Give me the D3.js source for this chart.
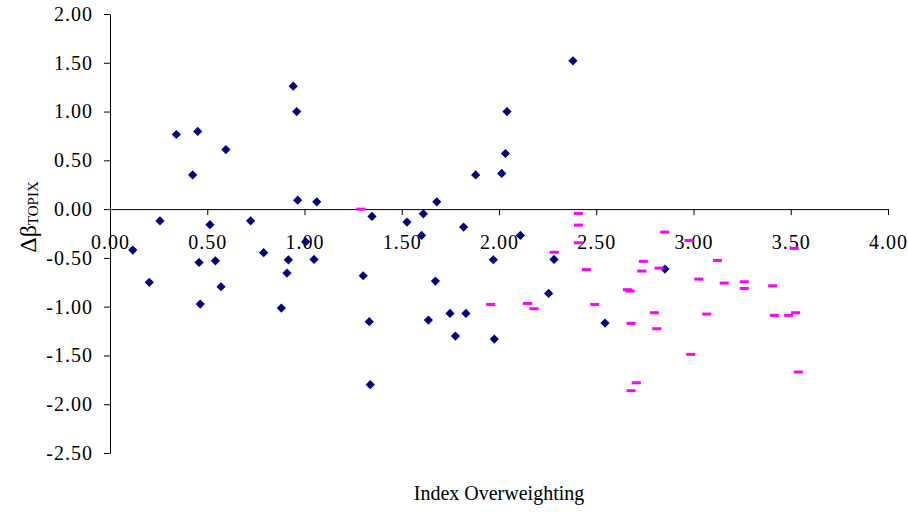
<!DOCTYPE html>
<html>
<head>
<meta charset="utf-8">
<script src="https://cdn.jsdelivr.net/npm/d3@7"></script>
<style>
  body { margin: 0; background: #fff; }
  svg { display: block; }
  svg text { font-family: "Liberation Serif", "Times New Roman", serif; }
</style>
</head>
<body>
<div id="chart"></div>
<script>
// Scatter of beta change vs index overweighting (two series: diamonds + dashes)

const xTicks = [0, 0.5, 1, 1.5, 2, 2.5, 3, 3.5, 4];
const yTicks = [-2.5, -2, -1.5, -1, -0.5, 0, 0.5, 1, 1.5, 2];

// series 1 — navy diamonds
const diamondX = [0.117, 0.202, 0.257, 0.341, 0.425, 0.451, 0.458, 0.464, 0.514, 0.542,
  0.571, 0.596, 0.723, 0.790, 0.881, 0.910, 0.917, 0.942, 0.960, 0.965,
  1.006, 1.049, 1.063, 1.302, 1.333, 1.338, 1.347, 1.527, 1.602, 1.611,
  1.637, 1.673, 1.680, 1.748, 1.776, 1.818, 1.830, 1.880, 1.971, 1.976,
  2.014, 2.033, 2.041, 2.110, 2.255, 2.283, 2.380, 2.545, 2.853];
const diamondY = [-0.42, -0.75, -0.12, 0.765, 0.35, 0.796, -0.546, -0.973, -0.16, -0.53,
  -0.796, 0.61, -0.12, -0.447, -1.014, -0.656, -0.52, 1.26, 1.00, 0.092,
  -0.335, -0.516, 0.075, -0.683, -1.154, -1.80, -0.075, -0.133, -0.27, -0.048,
  -1.137, -0.738, 0.075, -1.069, -1.301, -0.184, -1.069, 0.35, -0.519, -1.332,
  0.366, 0.57, 1.00, -0.27, -0.864, -0.516, 1.52, -1.168, -0.615];

// series 2 — magenta dashes
const dashX = [1.290, 1.957, 2.146, 2.180, 2.284, 2.408, 2.408, 2.408, 2.449, 2.492,
  2.660, 2.674, 2.679, 2.679, 2.706, 2.734, 2.742, 2.799, 2.811, 2.823,
  2.852, 2.977, 2.986, 3.027, 3.068, 3.123, 3.158, 3.261, 3.261, 3.407,
  3.416, 3.489, 3.525, 3.518, 3.539];
const dashY = [0.0, -0.977, -0.967, -1.021, -0.442, -0.044, -0.164, -0.345, -0.62, -0.977,
  -0.826, -0.84, -1.171, -1.861, -1.78, -0.635, -0.536, -1.062, -1.226, -0.605,
  -0.236, -0.321, -1.489, -0.717, -1.076, -0.526, -0.758, -0.745, -0.813, -0.786,
  -1.089, -1.089, -1.062, -0.403, -1.67];

const width = 908, height = 512;
const serif = "'Liberation Serif', 'Times New Roman', serif";

const x = d3.scaleLinear().domain([0, 4]).range([110, 888]);
const y = d3.scaleLinear().domain([-2.5, 2]).range([453, 14]);
// Excel-style labels: plain hyphen for negatives
const fmt = d => d3.format(".2f")(d).replace("\u2212", "-");

const svg = d3.select("#chart").append("svg")
  .attr("width", width)
  .attr("height", height);

// X axis crosses at y = 0
const xAxisG = svg.append("g")
  .attr("transform", `translate(0,${y(0)})`)
  .call(d3.axisBottom(x).tickValues(xTicks).tickFormat(fmt).tickSize(6).tickSizeOuter(0))
  .attr("font-family", serif)
  .attr("font-size", 20);
xAxisG.select(".domain").attr("stroke", "#000").attr("d", `M${x(0)},0.5H${x(4)}`);
xAxisG.selectAll(".tick line").attr("stroke", "#000");
xAxisG.selectAll(".tick text")
  .attr("y", 33).attr("dy", "0.35em")
  .attr("fill", "#000")
  .style("font-family", serif)
  .style("font-size", "20px")
  .style("letter-spacing", "1px");

// Y axis
const yAxisG = svg.append("g")
  .attr("transform", `translate(${x(0)},0)`)
  .call(d3.axisLeft(y).tickValues(yTicks).tickFormat(fmt).tickSize(6).tickSizeOuter(0))
  .attr("font-family", serif)
  .attr("font-size", 20);
yAxisG.select(".domain").attr("stroke", "#000");
yAxisG.selectAll(".tick line").attr("stroke", "#000");
yAxisG.selectAll(".tick text")
  .attr("x", -17)
  .attr("fill", "#000")
  .style("font-family", serif)
  .style("font-size", "20px")
  .style("letter-spacing", "1px");

// Diamonds (square rotated 45deg, Excel style)
const dr = 4.6;
svg.append("g").selectAll("path")
  .data(diamondX.map((v, i) => [v, diamondY[i]]))
  .join("path")
  .attr("d", d => `M${x(d[0])},${y(d[1]) - dr}L${x(d[0]) + dr},${y(d[1])}L${x(d[0])},${y(d[1]) + dr}L${x(d[0]) - dr},${y(d[1])}Z`)
  .attr("fill", "#000080");

// Dashes
svg.append("g").selectAll("rect")
  .data(dashX.map((v, i) => [v, dashY[i]]))
  .join("rect")
  .attr("x", d => x(d[0]) - 4.5)
  .attr("y", d => y(d[1]) - 1.5)
  .attr("width", 9)
  .attr("height", 3)
  .attr("fill", "#ff00ff");

// Axis titles
svg.append("text")
  .attr("x", 499)
  .attr("y", 500)
  .attr("text-anchor", "middle")
  .attr("fill", "#000")
  .style("font-size", "20px")
  .text("Index Overweighting");

const yTitle = svg.append("text")
  .attr("transform", "translate(36,217) rotate(-90)")
  .attr("text-anchor", "middle")
  .attr("fill", "#000");
yTitle.append("tspan").style("font-size", "24px").text("Δβ");
yTitle.append("tspan").style("font-size", "15px").attr("dy", "2").text("TOPIX");
</script>
</body>
</html>
